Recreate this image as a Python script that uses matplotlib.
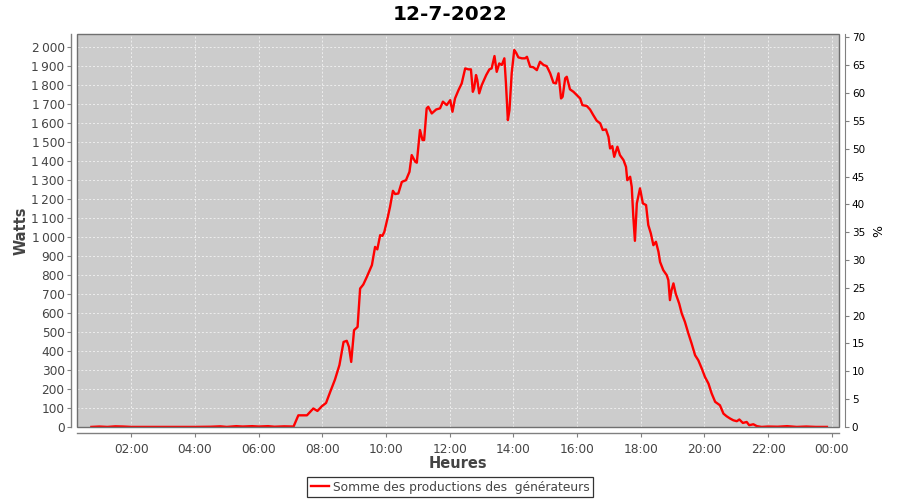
import matplotlib
matplotlib.use("Agg")
import matplotlib.pyplot as plt
from matplotlib.patches import Rectangle
from matplotlib.ticker import FuncFormatter, MultipleLocator, FixedLocator

title = "12-7-2022"
series_name = "Somme des productions des  générateurs"

# time in decimal hours, power in watts
hours = [0.75, 1.0, 1.25, 1.5, 1.75, 2.0, 2.5, 3.0, 3.5, 4.0, 4.5, 4.8, 5.0, 5.3, 5.5, 5.8,
         6.0, 6.3, 6.5, 6.8, 7.0, 7.10,
         7.25, 7.52, 7.72, 7.85, 7.99, 8.12, 8.25, 8.40, 8.54, 8.67, 8.77, 8.84, 8.91, 9.00,
         9.11, 9.19, 9.29, 9.40, 9.56, 9.66, 9.73, 9.82, 9.89, 9.95, 10.05, 10.13, 10.22,
         10.29, 10.39, 10.50, 10.63, 10.74, 10.81, 10.92, 10.97, 11.07, 11.15, 11.20, 11.28,
         11.33, 11.44, 11.58, 11.70, 11.79, 11.91, 12.02, 12.09, 12.17, 12.28, 12.38, 12.49,
         12.59, 12.67, 12.73, 12.77, 12.83, 12.87, 12.93, 13.01, 13.15, 13.25, 13.32, 13.41,
         13.48, 13.56, 13.64, 13.72, 13.77, 13.83, 13.88, 13.95, 14.03, 14.09, 14.16, 14.27,
         14.37, 14.43, 14.53, 14.63, 14.74, 14.84, 14.95, 15.05, 15.16, 15.26, 15.34, 15.42,
         15.50, 15.55, 15.63, 15.68, 15.78, 15.89, 15.99, 16.10, 16.17, 16.31, 16.41, 16.51,
         16.62, 16.73, 16.81, 16.91, 16.99, 17.04, 17.11, 17.17, 17.27, 17.35, 17.46, 17.54,
         17.58, 17.67, 17.72, 17.77, 17.82, 17.88, 17.98, 18.07, 18.17, 18.24, 18.32, 18.40,
         18.48, 18.56, 18.61, 18.71, 18.82, 18.87, 18.92, 18.97, 19.03, 19.10, 19.21, 19.29,
         19.39, 19.50, 19.60, 19.71, 19.81, 19.92, 20.02, 20.13, 20.23, 20.34, 20.49, 20.60,
         20.70, 20.81, 20.91, 21.02, 21.10, 21.21, 21.33, 21.41, 21.54, 21.65, 21.8, 22.0,
         22.3, 22.6, 22.9, 23.2, 23.5, 23.85]
watts = [0, 2, 0, 3, 2, 0, 0, 0, 0, 0, 1, 3, 0, 4, 2, 4,
         2, 4, 1, 3, 2, 2,
         61, 61, 97, 84, 109, 126, 184, 249, 325, 447, 453, 421, 342, 509,
         526, 728, 749, 789, 851, 947, 934, 1009, 1005, 1026, 1097, 1158, 1242,
         1225, 1228, 1289, 1298, 1342, 1430, 1395, 1390, 1562, 1509, 1509, 1676,
         1684, 1649, 1670, 1676, 1711, 1693, 1719, 1658, 1728, 1772, 1807, 1886,
         1881, 1881, 1763, 1781, 1851, 1825, 1755, 1798, 1851, 1881, 1886, 1951,
         1868, 1912, 1904, 1939, 1807, 1614, 1667, 1860, 1983, 1968, 1944, 1939,
         1939, 1947, 1895, 1892, 1877, 1921, 1904, 1898, 1860, 1811, 1807, 1860,
         1728, 1737, 1834, 1842, 1776, 1763, 1746, 1728, 1693, 1688, 1670, 1641,
         1611, 1597, 1562, 1565, 1526, 1465, 1477, 1421, 1474, 1430, 1404, 1368,
         1298, 1316, 1263, 1105, 979, 1176, 1255, 1176, 1167, 1062, 1018, 956,
         974, 921, 868, 825, 798, 772, 667, 719, 755, 702, 649, 597,
         553, 491, 439, 377, 351, 307, 263, 228, 176, 132, 114, 70,
         56, 44, 35, 30, 39, 21, 26, 9, 14, 4, 0, 2,
         1, 4, 0, 2, 0, 0]

x_ticks = [2, 4, 6, 8, 10, 12, 14, 16, 18, 20, 22, 24]
watts_per_percent = 29.27

fig = plt.figure(figsize=(9, 5), dpi=100)
ax = fig.add_axes([0.0856, 0.1454, 0.8470, 0.7866])
ax.set_facecolor("#cccccc")

ax.plot(hours, watts, color="#ff0000", lw=1.7, solid_joinstyle="round", zorder=3,
        label=series_name)

ax.set_xlim(0.30, 24.24)
ax.set_ylim(-2, 2067)

ax.xaxis.set_major_locator(FixedLocator(x_ticks))
ax.xaxis.set_major_formatter(FuncFormatter(lambda v, p: "%02d:00" % (int(round(v)) % 24)))
ax.yaxis.set_major_locator(MultipleLocator(100))
ax.yaxis.set_major_formatter(FuncFormatter(
    lambda v, p: ("%d\u202f%03d" % (int(v) // 1000, int(v) % 1000)) if v >= 1000 else "%d" % v))

ax.grid(True, color="#eeeeee", linestyle=(0, (2, 2)), linewidth=0.7)
ax.set_axisbelow(True)

for s in ["top", "right"]:
    ax.spines[s].set_visible(False)
for s in ["left", "bottom"]:
    ax.spines[s].set_position(("outward", 4))
    ax.spines[s].set_color("#808080")
    ax.spines[s].set_linewidth(1.0)

ax.add_patch(Rectangle((0, 0), 1, 1, transform=ax.transAxes, fill=False,
                       edgecolor="#707070", linewidth=1.0, clip_on=False, zorder=5))

ax.tick_params(axis="both", direction="out", length=3, width=0.8, color="#808080",
               labelcolor="#444444", labelsize=8.7, pad=2)
ax.tick_params(axis="x", pad=4)

ax2 = ax.twinx()
ax2.set_ylim(-2 / watts_per_percent, 2067 / watts_per_percent)
ax2.yaxis.set_major_locator(MultipleLocator(5))
for s in ["top", "left", "bottom"]:
    ax2.spines[s].set_visible(False)
ax2.spines["right"].set_position(("outward", 4))
ax2.spines["right"].set_color("#808080")
ax2.tick_params(axis="y", direction="out", length=3, width=0.8, color="#808080",
                labelcolor="#000000", labelsize=7.5, pad=2)
ax2.set_ylabel("%", fontsize=9, color="#000000", labelpad=5)

ax.set_xlabel("Heures", fontsize=10.5, fontweight="bold", color="#444444", labelpad=0)
ax.set_ylabel("Watts", fontsize=10.5, fontweight="bold", color="#444444", labelpad=2)

fig.text(0.5, 0.972, title, ha="center", va="center", fontsize=14.5, fontweight="bold",
         color="#000000")

leg = fig.legend(loc="center", bbox_to_anchor=(0.5, 0.026), frameon=True, fancybox=False,
                 shadow=False, fontsize=8.8, handlelength=1.5, handletextpad=0.3,
                 borderpad=0.3, borderaxespad=0)
leg.get_frame().set_edgecolor("#000000")
leg.get_frame().set_linewidth(0.9)
for t in leg.get_texts():
    t.set_color("#444444")

fig.savefig("out.png", dpi=100)
